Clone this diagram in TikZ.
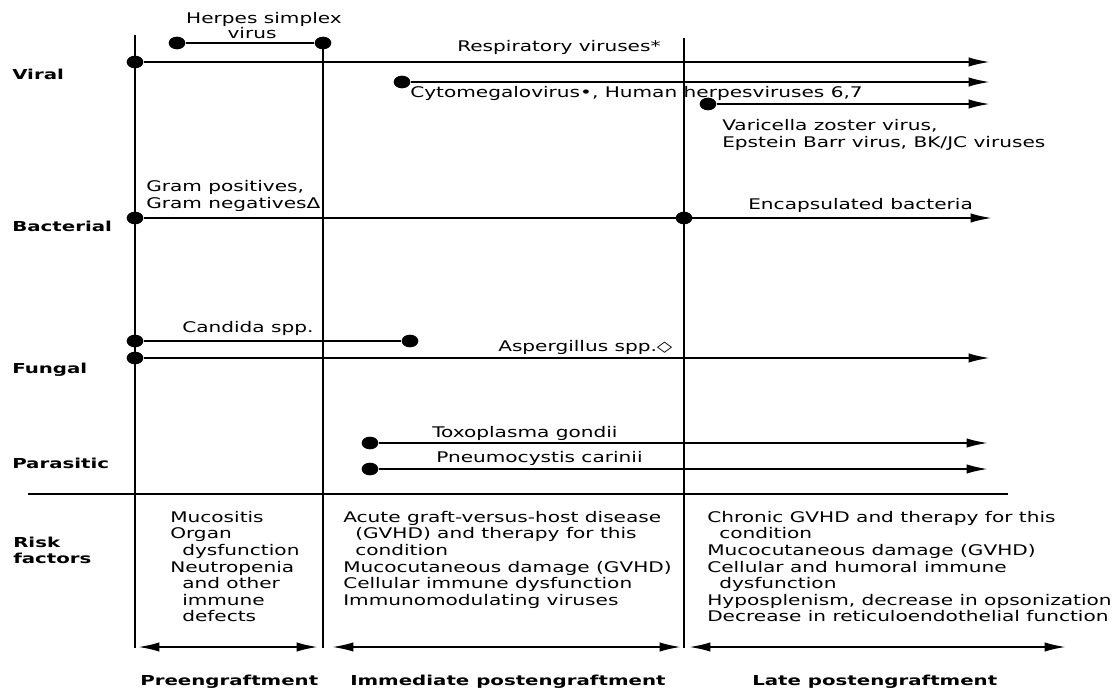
\documentclass[tikz,border=0pt]{standalone}
\usepackage{fontspec}
\setmainfont{DejaVu Sans}[FakeStretch=1.37,BoldFeatures={FakeStretch=1.44}]
\usetikzlibrary{arrows.meta}
\usetikzlibrary{shapes.geometric}

\begin{document}
\begin{tikzpicture}[x=0.75pt,y=-0.75pt,
    blob/.style={ellipse,fill,inner sep=0pt,minimum width=12.5pt,minimum height=9.5pt},
    arr/.style={line width=1.5pt,-{Latex[length=16pt,width=7pt]}},
    period/.style={line width=1.5pt,{Latex[length=16pt,width=7pt]}-{Latex[length=16pt,width=7pt]}},
    vline/.style={line width=2.2pt},
    txt/.style={font=\fontsize{11}{12.4}\selectfont,inner sep=0pt,align=left},
    lbl/.style={font=\fontsize{10.3}{12}\selectfont\bfseries,inner sep=0pt,align=left}]
      \useasboundingbox (0,0) rectangle (1115,690);
      \coordinate (v1t) at (135,35); \coordinate (v1b) at (135,648);
      \coordinate (v2t) at (323,37); \coordinate (v2b) at (323,648);
      \coordinate (v3t) at (684,38); \coordinate (v3b) at (684,648);
      \draw[vline] (v1t) -- (v1b);
      \draw[vline] (v2t) -- (v2b);
      \draw[vline] (v3t) -- (v3b);
      \coordinate (sepl) at (28,494); \coordinate (sepr) at (1008,494);
      \draw[line width=1.5pt] (sepl) -- (sepr);

      \node[lbl,anchor=base west] (viral) at (12,79) {Viral};
      \node[lbl,anchor=base west] (bact) at (12,231) {Bacterial};
      \node[lbl,anchor=base west] (fung) at (12,373) {Fungal};
      \node[lbl,anchor=base west] (para) at (12,468) {Parasitic};
      \node[lbl,anchor=base west] (risk) at (13,547) {Risk};
      \node[lbl,anchor=base west] (fact) at (13,563) {factors};

      \node[blob] (hsv0) at (177,43) {};
      \node[blob] (hsv1) at (323,43) {};
      \draw[line width=1.5pt] (hsv0) -- (hsv1);
      \node[txt,anchor=base] (hsvt) at (264,23) {Herpes simplex};
      \node[txt,anchor=base] (hsvt2) at (252,38) {virus};

      \node[blob] (resp0) at (135,62) {};
      \coordinate (resp1) at (990,62);
      \draw[arr] (resp0) -- (resp1);
      \node[txt,anchor=base west] (respt) at (457,51) {Respiratory viruses*};

      \node[blob] (cmv0) at (402,82) {};
      \coordinate (cmv1) at (990,82);
      \draw[arr] (cmv0) -- (cmv1);
      \node[txt,anchor=base west] (cmvt) at (410,97) {Cytomegalovirus•, Human herpesviruses 6,7};

      \node[blob] (vzv0) at (708,104) {};
      \coordinate (vzv1) at (990,104);
      \draw[arr] (vzv0) -- (vzv1);
      \node[txt,anchor=base west] (vzvt) at (722,130) {Varicella zoster virus,};
      \node[txt,anchor=base west] (vzvt2) at (722,147) {Epstein Barr virus, BK/JC viruses};

      \node[txt,anchor=base west] (gramt) at (146,191) {Gram positives,};
      \node[txt,anchor=base west] (gramt2) at (146,208) {Gram negativesΔ};
      \node[blob] (bac0) at (135,218) {};
      \node[blob] (bac1) at (684,218) {};
      \coordinate (bac2) at (992,218);
      \draw[arr] (bac0) -- (bac2);
      \node[txt,anchor=base west] (encpt) at (748,209) {Encapsulated bacteria};

      \node[blob] (cand0) at (135,341) {};
      \node[blob] (cand1) at (410,341) {};
      \draw[line width=1.5pt] (cand0) -- (cand1);
      \node[txt,anchor=base west] (candt) at (182,332) {Candida spp.};

      \node[blob] (asp0) at (135,358) {};
      \coordinate (asp1) at (990,358);
      \draw[arr] (asp0) -- (asp1);
      \node[txt,anchor=base west] (aspt) at (498,351) {Aspergillus spp.◇};

      \node[blob] (toxo0) at (370,443) {};
      \coordinate (toxo1) at (988,443);
      \draw[arr] (toxo0) -- (toxo1);
      \node[txt,anchor=base west] (toxot) at (432,437) {Toxoplasma gondii};

      \node[blob] (pneu0) at (370,469) {};
      \coordinate (pneu1) at (988,469);
      \draw[arr] (pneu0) -- (pneu1);
      \node[txt,anchor=base west] (pneut) at (436,462) {Pneumocystis carinii};

      \node[txt,anchor=north west] (rf1) at (170,511) {Mucositis\\Organ\\\hspace*{9pt}dysfunction\\Neutropenia\\\hspace*{9pt}and other\\\hspace*{9pt}immune\\\hspace*{9pt}defects};
      \node[txt,anchor=north west] (rf2) at (343,511) {Acute graft-versus-host disease\\\hspace*{9pt}(GVHD) and therapy for this\\\hspace*{9pt}condition\\Mucocutaneous damage (GVHD)\\Cellular immune dysfunction\\Immunomodulating viruses};
      \node[txt,anchor=north west] (rf3) at (707,511) {Chronic GVHD and therapy for this\\\hspace*{9pt}condition\\Mucocutaneous damage (GVHD)\\Cellular and humoral immune\\\hspace*{9pt}dysfunction\\Hyposplenism, decrease in opsonization\\Decrease in reticuloendothelial function};

      \coordinate (p1a) at (138,647); \coordinate (p1b) at (318,647);
      \coordinate (p2a) at (332,647); \coordinate (p2b) at (681,647);
      \coordinate (p3a) at (689,647); \coordinate (p3b) at (1066,647);
      \draw[period] (p1a) -- (p1b);
      \draw[period] (p2a) -- (p2b);
      \draw[period] (p3a) -- (p3b);
      \node[lbl,anchor=base west] (pre) at (140,685) {Preengraftment};
      \node[lbl,anchor=base west] (imm) at (350,685) {Immediate postengraftment};
      \node[lbl,anchor=base west] (late) at (752,685) {Late postengraftment};
    \end{tikzpicture}
\end{document}
